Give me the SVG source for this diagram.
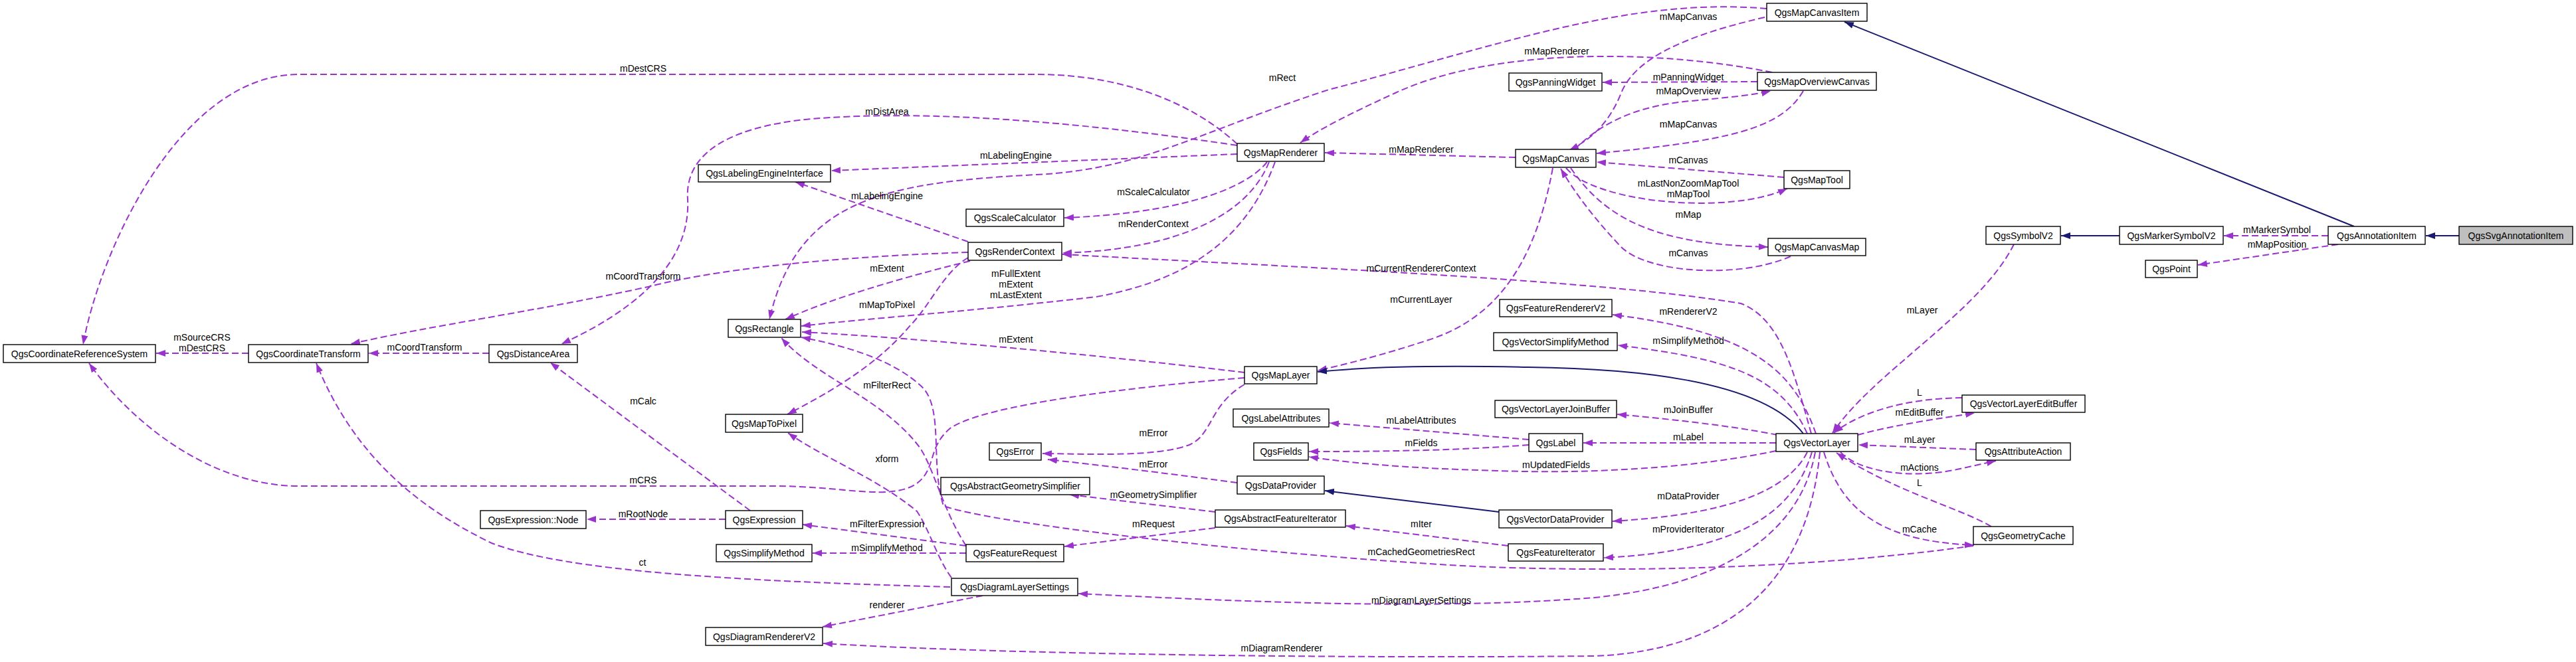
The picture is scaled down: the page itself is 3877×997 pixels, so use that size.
<svg xmlns="http://www.w3.org/2000/svg" width="3877" height="997" viewBox="0 0 3877 997">
<style>
.n rect{fill:#fff;stroke:#000;stroke-width:1.4}
.n text,.lbl{font-family:"Liberation Sans",Arial,sans-serif;font-size:14px;fill:#000;text-anchor:middle}
.u{fill:none;stroke:#9a32cd;stroke-width:2;stroke-dasharray:10,5;marker-end:url(#pa)}
.i{fill:none;stroke:#191970;stroke-width:2;marker-end:url(#na)}
</style>
<defs>
<marker id="pa" markerUnits="userSpaceOnUse" markerWidth="16" markerHeight="12" refX="14" refY="5" orient="auto"><path d="M0,0 L14,5 L0,10 z" fill="#9a32cd"/></marker>
<marker id="na" markerUnits="userSpaceOnUse" markerWidth="16" markerHeight="12" refX="14" refY="5" orient="auto"><path d="M0,0 L14,5 L0,10 z" fill="#191970"/></marker>
</defs>
<rect width="3877" height="997" fill="#fff"/>
<g id="edges">
<path class="u" d="M2656,26 C2530,55 2460,90 2440,140 C2422,185 2395,210 2362,226"/>
<path class="u" d="M2659,13 C2450,-5 2250,70 2000,135 C1800,200 1720,255 1560,263 C1330,275 1200,300 1158,481"/>
<path class="u" d="M2667,109 C2500,75 2250,70 2100,140 C2030,172 1985,195 1957,215"/>
<path class="u" d="M2645,123 L2412,124"/>
<path class="u" d="M2370,225 C2420,175 2480,158 2545,152 C2600,147 2640,143 2665,137"/>
<path class="u" d="M2714,137 C2680,195 2600,212 2403,231"/>
<path class="u" d="M2281,237 L1994,230"/>
<path class="u" d="M2685,267 L2403,244"/>
<path class="u" d="M2357,253 C2400,305 2600,325 2690,284"/>
<path class="u" d="M2364,253 C2420,335 2500,368 2661,372"/>
<path class="u" d="M2695,386 C2620,420 2480,412 2440,372 C2400,330 2370,290 2349,254"/>
<path class="u" d="M2337,253 C2310,400 2250,480 2150,512 C2080,535 2020,550 1983,558"/>
<path class="u" d="M1862,217 C1790,150 1680,112 1560,112 L450,112 C270,112 150,380 125,519"/>
<path class="u" d="M1862,219 C1600,180 1400,168 1250,177 C1100,185 1030,230 1035,300 C1040,400 950,470 845,518"/>
<path class="u" d="M1862,232 L1251,257"/>
<path class="u" d="M1907,244 C1870,290 1760,322 1602,328"/>
<path class="u" d="M1910,244 C1880,320 1780,376 1599,381"/>
<path class="u" d="M1919,244 C1880,350 1800,420 1650,447 C1450,470 1300,480 1206,491"/>
<path class="u" d="M1457,364 L1197,274"/>
<path class="u" d="M1457,380 C1300,385 1100,400 975,432 C800,470 650,490 528,518"/>
<path class="u" d="M1460,393 C1350,420 1250,450 1182,481"/>
<path class="u" d="M1457,388 C1420,410 1400,460 1370,490 C1320,550 1250,590 1185,624"/>
<path class="u" d="M374,532 L235,532"/>
<path class="u" d="M736,532 L555,532"/>
<path class="u" d="M1129,769 L828,546"/>
<path class="u" d="M1092,782 L883,782"/>
<path class="u" d="M1873,569 C1700,583 1480,610 1430,645 C1395,675 1410,705 1380,728 C1340,755 1270,732 1166,732 L450,732 C320,732 200,640 134,547"/>
<path class="u" d="M1873,561 C1700,540 1400,510 1207,500"/>
<path class="u" d="M1873,579 C1820,610 1825,655 1790,670 C1740,688 1650,684 1569,683"/>
<path class="u" d="M1862,727 C1750,712 1650,700 1577,692"/>
<path class="u" d="M1454,822 C1420,770 1405,705 1385,675 C1330,600 1230,570 1176,509"/>
<path class="u" d="M1454,822 L1208,790"/>
<path class="u" d="M1454,833 L1223,833"/>
<path class="u" d="M1829,771 L1610,745"/>
<path class="u" d="M1829,795 L1602,823"/>
<path class="u" d="M1430,884 C1100,875 850,860 740,818 C620,760 530,680 476,547"/>
<path class="u" d="M1432,870 C1410,840 1400,800 1380,770 C1320,720 1240,690 1186,652"/>
<path class="u" d="M1479,897 L1238,944"/>
<path class="u" d="M2726,653 C2700,560 2680,480 2620,457 C2400,420 1900,400 1599,383"/>
<path class="u" d="M2733,653 C2700,560 2640,500 2427,474"/>
<path class="u" d="M2720,653 C2680,565 2600,540 2435,520"/>
<path class="i" d="M2714,653 C2650,570 2450,555 2300,553 C2150,550 2050,553 1983,560"/>
<path class="u" d="M2675,655 C2600,640 2500,630 2434,624"/>
<path class="u" d="M2301,662 L2001,637"/>
<path class="u" d="M2301,670 C2200,678 2100,680 1970,680"/>
<path class="u" d="M2673,667 L2383,667"/>
<path class="u" d="M2673,679 C2550,705 2400,712 2295,710 C2150,707 2050,700 1970,688"/>
<path class="i" d="M2256,771 L1994,739"/>
<path class="u" d="M2720,681 C2690,740 2600,775 2427,785"/>
<path class="u" d="M2270,822 L2026,792"/>
<path class="u" d="M2727,681 C2700,770 2620,830 2414,840"/>
<path class="u" d="M2970,822 C2700,860 2400,862 2200,852 C1900,835 1500,790 1420,762 C1400,700 1420,620 1390,585 C1350,545 1280,522 1206,508"/>
<path class="u" d="M2732,681 C2710,800 2600,880 2400,900 C2150,920 1850,905 1623,894"/>
<path class="u" d="M2739,681 C2720,880 2600,980 2400,988 C2000,992 1500,985 1239,969"/>
<path class="u" d="M3031,368 C2980,470 2820,560 2758,652"/>
<path class="u" d="M2953,599 C2870,600 2800,620 2760,652"/>
<path class="u" d="M2796,655 C2850,640 2920,630 2972,622"/>
<path class="u" d="M2974,677 L2797,670"/>
<path class="u" d="M2770,681 C2800,712 2880,722 2950,706 L3004,694"/>
<path class="u" d="M2997,793 C2950,765 2850,740 2764,682"/>
<path class="u" d="M2745,681 C2770,760 2820,815 2971,821"/>
<path class="i" d="M3190,355 L3102,355"/>
<path class="u" d="M3504,355 L3347,355"/>
<path class="u" d="M3519,368 L3308,399"/>
<path class="i" d="M3543,341 L2776,33"/>
<path class="i" d="M3701,355 L3651,355"/>
</g>
<g id="labels" class="lbl">
<text class="lbl" x="968" y="108">mDestCRS</text>
<text class="lbl" x="1335" y="173">mDistArea</text>
<text class="lbl" x="1529" y="239">mLabelingEngine</text>
<text class="lbl" x="1335" y="300">mLabelingEngine</text>
<text class="lbl" x="1736" y="294">mScaleCalculator</text>
<text class="lbl" x="1736" y="342">mRenderContext</text>
<text class="lbl" x="1335" y="409">mExtent</text>
<text class="lbl" x="1529" y="417">mFullExtent</text>
<text class="lbl" x="1529" y="433">mExtent</text>
<text class="lbl" x="1529" y="449">mLastExtent</text>
<text class="lbl" x="1335" y="464">mMapToPixel</text>
<text class="lbl" x="1930" y="122">mRect</text>
<text class="lbl" x="968" y="421">mCoordTransform</text>
<text class="lbl" x="304" y="513">mSourceCRS</text>
<text class="lbl" x="304" y="529">mDestCRS</text>
<text class="lbl" x="639" y="528">mCoordTransform</text>
<text class="lbl" x="968" y="609">mCalc</text>
<text class="lbl" x="968" y="728">mCRS</text>
<text class="lbl" x="968" y="779">mRootNode</text>
<text class="lbl" x="967" y="852">ct</text>
<text class="lbl" x="1529" y="516">mExtent</text>
<text class="lbl" x="1335" y="585">mFilterRect</text>
<text class="lbl" x="1335" y="696">xform</text>
<text class="lbl" x="1736" y="657">mError</text>
<text class="lbl" x="1736" y="704">mError</text>
<text class="lbl" x="1736" y="750">mGeometrySimplifier</text>
<text class="lbl" x="1736" y="794">mRequest</text>
<text class="lbl" x="1335" y="794">mFilterExpression</text>
<text class="lbl" x="1335" y="830">mSimplifyMethod</text>
<text class="lbl" x="1335" y="916">renderer</text>
<text class="lbl" x="1929" y="981">mDiagramRenderer</text>
<text class="lbl" x="2541" y="30">mMapCanvas</text>
<text class="lbl" x="2343" y="82">mMapRenderer</text>
<text class="lbl" x="2541" y="121">mPanningWidget</text>
<text class="lbl" x="2541" y="142">mMapOverview</text>
<text class="lbl" x="2541" y="192">mMapCanvas</text>
<text class="lbl" x="2139" y="230">mMapRenderer</text>
<text class="lbl" x="2541" y="246">mCanvas</text>
<text class="lbl" x="2541" y="281">mLastNonZoomMapTool</text>
<text class="lbl" x="2541" y="297">mMapTool</text>
<text class="lbl" x="2541" y="328">mMap</text>
<text class="lbl" x="2541" y="386">mCanvas</text>
<text class="lbl" x="2139" y="409">mCurrentRendererContext</text>
<text class="lbl" x="2139" y="456">mCurrentLayer</text>
<text class="lbl" x="2541" y="474">mRendererV2</text>
<text class="lbl" x="2893" y="472">mLayer</text>
<text class="lbl" x="2541" y="518">mSimplifyMethod</text>
<text class="lbl" x="2541" y="622">mJoinBuffer</text>
<text class="lbl" x="2139" y="638">mLabelAttributes</text>
<text class="lbl" x="2139" y="672">mFields</text>
<text class="lbl" x="2541" y="663">mLabel</text>
<text class="lbl" x="2342" y="705">mUpdatedFields</text>
<text class="lbl" x="2541" y="752">mDataProvider</text>
<text class="lbl" x="2139" y="794">mIter</text>
<text class="lbl" x="2541" y="802">mProviderIterator</text>
<text class="lbl" x="2139" y="836">mCachedGeometriesRect</text>
<text class="lbl" x="2139" y="909">mDiagramLayerSettings</text>
<text class="lbl" x="2889" y="596">L</text>
<text class="lbl" x="2889" y="626">mEditBuffer</text>
<text class="lbl" x="2889" y="667">mLayer</text>
<text class="lbl" x="2889" y="709">mActions</text>
<text class="lbl" x="2889" y="732">L</text>
<text class="lbl" x="2889" y="802">mCache</text>
<text class="lbl" x="3427" y="351">mMarkerSymbol</text>
<text class="lbl" x="3427" y="373">mMapPosition</text>
</g>
<g id="QgsCoordinateReferenceSystem" class="n"><rect x="5" y="519" width="229" height="27"/><text x="119.5" y="537.5">QgsCoordinateReferenceSystem</text></g>
<g id="QgsCoordinateTransform" class="n"><rect x="374" y="519" width="180" height="27"/><text x="464" y="537.5">QgsCoordinateTransform</text></g>
<g id="QgsDistanceArea" class="n"><rect x="736" y="519" width="133" height="27"/><text x="802.5" y="537.5">QgsDistanceArea</text></g>
<g id="QgsExpressionNode" class="n"><rect x="723" y="769" width="159" height="27"/><text x="802.5" y="787.5">QgsExpression::Node</text></g>
<g id="QgsLabelingEngineInterface" class="n"><rect x="1051" y="248" width="199" height="26"/><text x="1150.5" y="266">QgsLabelingEngineInterface</text></g>
<g id="QgsScaleCalculator" class="n"><rect x="1454" y="315" width="147" height="26"/><text x="1527.5" y="333">QgsScaleCalculator</text></g>
<g id="QgsRenderContext" class="n"><rect x="1457" y="365" width="141" height="27"/><text x="1527.5" y="383.5">QgsRenderContext</text></g>
<g id="QgsMapRenderer" class="n"><rect x="1862" y="216" width="131" height="27"/><text x="1927.5" y="234.5">QgsMapRenderer</text></g>
<g id="QgsRectangle" class="n"><rect x="1096" y="481" width="109" height="27"/><text x="1150.5" y="499.5">QgsRectangle</text></g>
<g id="QgsMapToPixel" class="n"><rect x="1092" y="624" width="116" height="27"/><text x="1150" y="642.5">QgsMapToPixel</text></g>
<g id="QgsError" class="n"><rect x="1489" y="667" width="78" height="26"/><text x="1528" y="685">QgsError</text></g>
<g id="QgsAbstractGeometrySimplifier" class="n"><rect x="1416" y="719" width="224" height="26"/><text x="1528" y="737">QgsAbstractGeometrySimplifier</text></g>
<g id="QgsExpression" class="n"><rect x="1092" y="769" width="116" height="27"/><text x="1150" y="787.5">QgsExpression</text></g>
<g id="QgsSimplifyMethod" class="n"><rect x="1078" y="820" width="144" height="26"/><text x="1150" y="838">QgsSimplifyMethod</text></g>
<g id="QgsFeatureRequest" class="n"><rect x="1454" y="820" width="147" height="26"/><text x="1527.5" y="838">QgsFeatureRequest</text></g>
<g id="QgsDiagramLayerSettings" class="n"><rect x="1432" y="871" width="190" height="26"/><text x="1527" y="889">QgsDiagramLayerSettings</text></g>
<g id="QgsDiagramRendererV2" class="n"><rect x="1062" y="945" width="176" height="27"/><text x="1150" y="963.5">QgsDiagramRendererV2</text></g>
<g id="QgsMapLayer" class="n"><rect x="1873" y="552" width="109" height="26"/><text x="1927.5" y="570">QgsMapLayer</text></g>
<g id="QgsLabelAttributes" class="n"><rect x="1856" y="616" width="144" height="27"/><text x="1928" y="634.5">QgsLabelAttributes</text></g>
<g id="QgsFields" class="n"><rect x="1887" y="667" width="82" height="26"/><text x="1928" y="685">QgsFields</text></g>
<g id="QgsDataProvider" class="n"><rect x="1862" y="717" width="131" height="27"/><text x="1927.5" y="735.5">QgsDataProvider</text></g>
<g id="QgsAbstractFeatureIterator" class="n"><rect x="1829" y="768" width="196" height="26"/><text x="1927" y="786">QgsAbstractFeatureIterator</text></g>
<g id="QgsMapCanvasItem" class="n"><rect x="2659" y="5" width="151" height="27"/><text x="2734.5" y="23.5">QgsMapCanvasItem</text></g>
<g id="QgsPanningWidget" class="n"><rect x="2271" y="110" width="140" height="27"/><text x="2341" y="128.5">QgsPanningWidget</text></g>
<g id="QgsMapOverviewCanvas" class="n"><rect x="2645" y="109" width="179" height="27"/><text x="2734.5" y="127.5">QgsMapOverviewCanvas</text></g>
<g id="QgsMapCanvas" class="n"><rect x="2281" y="225" width="121" height="27"/><text x="2341.5" y="243.5">QgsMapCanvas</text></g>
<g id="QgsMapTool" class="n"><rect x="2685" y="257" width="99" height="27"/><text x="2734.5" y="275.5">QgsMapTool</text></g>
<g id="QgsMapCanvasMap" class="n"><rect x="2661" y="359" width="147" height="26"/><text x="2734.5" y="377">QgsMapCanvasMap</text></g>
<g id="QgsFeatureRendererV2" class="n"><rect x="2257" y="451" width="169" height="26"/><text x="2341.5" y="469">QgsFeatureRendererV2</text></g>
<g id="QgsVectorSimplifyMethod" class="n"><rect x="2248" y="501" width="186" height="27"/><text x="2341" y="519.5">QgsVectorSimplifyMethod</text></g>
<g id="QgsVectorLayerJoinBuffer" class="n"><rect x="2250" y="603" width="183" height="26"/><text x="2341.5" y="621">QgsVectorLayerJoinBuffer</text></g>
<g id="QgsLabel" class="n"><rect x="2301" y="653" width="81" height="27"/><text x="2341.5" y="671.5">QgsLabel</text></g>
<g id="QgsVectorLayer" class="n"><rect x="2673" y="653" width="123" height="27"/><text x="2734.5" y="671.5">QgsVectorLayer</text></g>
<g id="QgsVectorDataProvider" class="n"><rect x="2256" y="768" width="170" height="27"/><text x="2341" y="786.5">QgsVectorDataProvider</text></g>
<g id="QgsFeatureIterator" class="n"><rect x="2270" y="819" width="143" height="26"/><text x="2341.5" y="837">QgsFeatureIterator</text></g>
<g id="QgsSymbolV2" class="n"><rect x="2989" y="341" width="112" height="27"/><text x="3045" y="359.5">QgsSymbolV2</text></g>
<g id="QgsMarkerSymbolV2" class="n"><rect x="3190" y="341" width="156" height="27"/><text x="3268" y="359.5">QgsMarkerSymbolV2</text></g>
<g id="QgsAnnotationItem" class="n"><rect x="3504" y="341" width="146" height="27"/><text x="3577" y="359.5">QgsAnnotationItem</text></g>
<g id="QgsSvgAnnotationItem" class="n"><rect x="3701" y="341" width="171" height="27" style="fill:#bfbfbf"/><text x="3786.5" y="359.5">QgsSvgAnnotationItem</text></g>
<g id="QgsPoint" class="n"><rect x="3229" y="392" width="78" height="26"/><text x="3268" y="410">QgsPoint</text></g>
<g id="QgsVectorLayerEditBuffer" class="n"><rect x="2953" y="595" width="185" height="26"/><text x="3045.5" y="613">QgsVectorLayerEditBuffer</text></g>
<g id="QgsAttributeAction" class="n"><rect x="2974" y="667" width="142" height="26"/><text x="3045" y="685">QgsAttributeAction</text></g>
<g id="QgsGeometryCache" class="n"><rect x="2970" y="793" width="150" height="27"/><text x="3045" y="811.5">QgsGeometryCache</text></g>
</svg>
